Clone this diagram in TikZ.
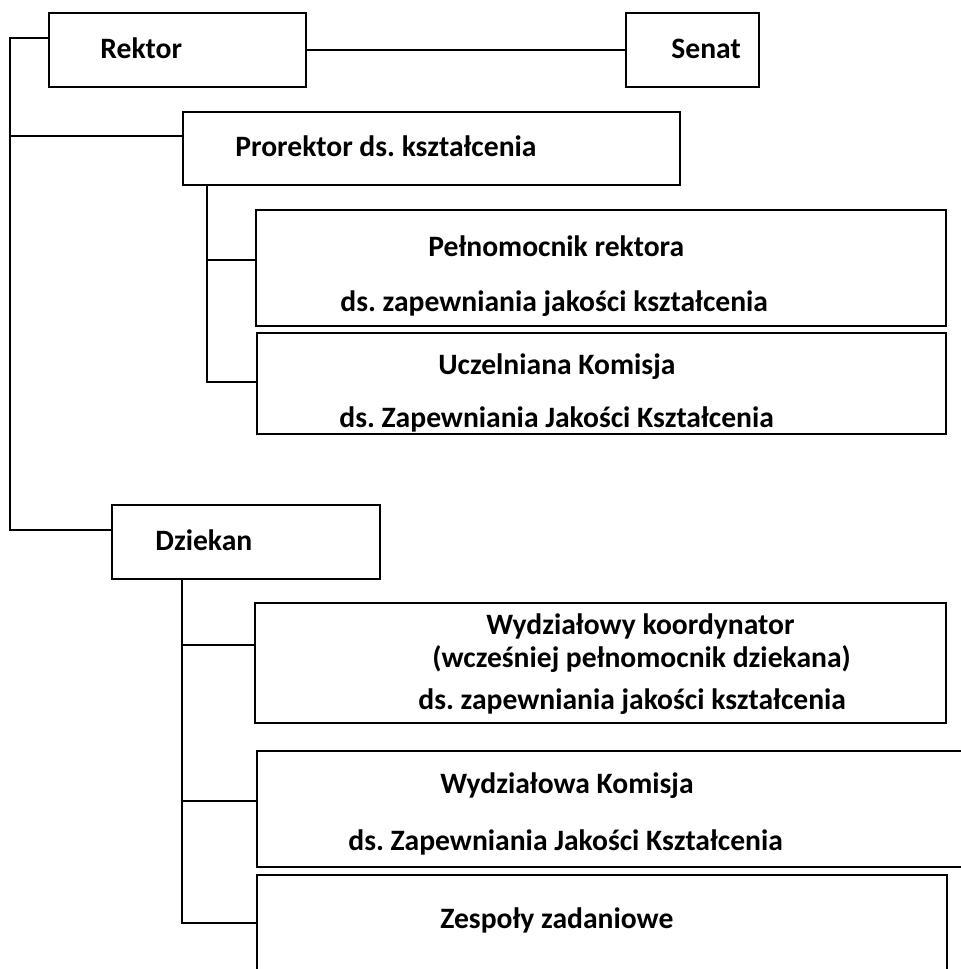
\documentclass[tikz,border=0pt]{standalone}
\usepackage{fontspec}
\setmainfont{Carlito}
\frenchspacing
\begin{document}
\begin{tikzpicture}[x=0.5pt,y=-0.5pt]
        \tikzstyle{blk} = [draw, black, line width=0.9pt]
        \tikzstyle{box} = [draw, black, line width=0.9pt, rectangle, inner sep=0pt]
        \tikzstyle{lbl} = [anchor=base west, inner sep=0pt, font=\fontsize{14.8}{17}\selectfont\bfseries]
        \useasboundingbox (0,0) rectangle (961,969);

        \node[box, minimum width=128.5pt, minimum height=37pt] (rektor) at (177.5, 50) {};
        \node[box, minimum width=66.5pt, minimum height=37pt] (senat) at (692.5, 50) {};
        \node[box, minimum width=248.5pt, minimum height=36.5pt] (prorektor) at (431.5, 148.5) {};
        \node[box, minimum width=345pt, minimum height=58pt] (pelnom) at (601, 268) {};
        \node[box, minimum width=344.5pt, minimum height=50.5pt] (uczkom) at (601.5, 383.5) {};
        \node[box, minimum width=134pt, minimum height=37pt] (dziekan) at (246, 542) {};
        \node[box, minimum width=345.5pt, minimum height=60pt] (wydkoord) at (600.5, 663) {};
        \node[box, minimum width=354pt, minimum height=58pt] (wydkom) at (611, 809) {};
        \node[box, minimum width=345pt, minimum height=50pt] (zespoly) at (602, 925) {};

        \node[lbl] (rektortxt) at (100, 58) {Rektor};
        \node[lbl] (senattxt) at (671, 58) {Senat};
        \node[lbl] (prorektortxt) at (235, 156) {Prorektor ds. kształcenia};
        \node[lbl] (pelnomtxta) at (428, 256) {Pełnomocnik rektora};
        \node[lbl] (pelnomtxtb) at (340, 311) {ds. zapewniania jakości kształcenia};
        \node[lbl] (uczkomtxta) at (438, 374) {Uczelniana Komisja};
        \node[lbl] (uczkomtxtb) at (339, 427) {ds. Zapewniania Jakości Kształcenia};
        \node[lbl] (dziekantxt) at (155, 550) {Dziekan};
        \node[lbl] (wydkoordtxta) at (486, 634) {Wydziałowy koordynator};
        \node[lbl] (wydkoordtxtb) at (432, 667) {(wcześniej pełnomocnik dziekana)};
        \node[lbl] (wydkoordtxtc) at (418, 709) {ds. zapewniania jakości kształcenia};
        \node[lbl] (wydkomtxta) at (440, 793) {Wydziałowa Komisja};
        \node[lbl] (wydkomtxtb) at (348, 850) {ds. Zapewniania Jakości Kształcenia};
        \node[lbl] (zespolytxt) at (440, 928) {Zespoły zadaniowe};

        \coordinate (trtop) at (10, 38);
        \coordinate (trbot) at (10, 530);
        \coordinate (prbr) at (10, 136);
        \coordinate (prtrunk) at (207, 382);
        \coordinate (pelbr) at (207, 260);
        \coordinate (dztrunk) at (182, 923);
        \coordinate (koordbr) at (182, 645);
        \coordinate (kombr) at (182, 801);

        \path[blk] (rektor) to (senat);
        \path[blk] (rektor.west |- trtop) -- (trtop) -- (trbot) -- (dziekan.west |- trbot);
        \path[blk] (prbr) -- (prorektor.west |- prbr);
        \path[blk] (prorektor.south -| prtrunk) -- (prtrunk) -- (uczkom.west |- prtrunk);
        \path[blk] (pelbr) -- (pelnom.west |- pelbr);
        \path[blk] (dziekan.south -| dztrunk) -- (dztrunk) -- (zespoly.west |- dztrunk);
        \path[blk] (koordbr) -- (wydkoord.west |- koordbr);
        \path[blk] (kombr) -- (wydkom.west |- kombr);
    \end{tikzpicture}
\end{document}
